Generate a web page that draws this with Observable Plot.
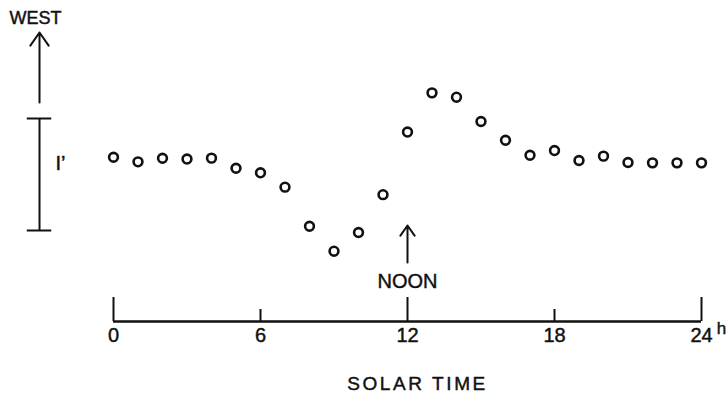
<!DOCTYPE html>
<html><head><meta charset="utf-8">
<script src="https://cdn.jsdelivr.net/npm/d3@7"></script>
<script src="https://cdn.jsdelivr.net/npm/@observablehq/plot@0.6"></script>
<style>
html,body{margin:0;padding:0;background:#fff;}
</style></head><body><div id="chart"></div>
<script>
// Solar time (hours) and westward deviation (arcminutes, relative to scale-bar base)
const hours = [0,1,2,3,4,5,6,7,8,9,10,11,12,13,14,15,16,17,18,19,20,21,22,23,24];
const deviation = [0.654,0.613,0.645,0.638,0.646,0.556,0.515,0.387,0.038,-0.185,-0.018,0.320,0.879,1.229,1.190,0.973,0.806,0.672,0.714,0.625,0.664,0.607,0.604,0.604,0.604];
const majorTicks = [0,12,24];
const minorTicks = [6,18];
const tickValues = [0,6,12,18,24];
const tickLabels = ["0","6","12","18","24"];
// annotation anchors (data units)
const axisLevel = -0.8125;
const scaleBar = {x: -3.02, from: 0, to: 1, label: "I’", labelY: 0.6};
const westArrow = {x: -3.02, y1: 1.143, y2: 1.768, label: "WEST", labelY: 1.893};
const noonArrow = {x: 12, y1: -0.286, y2: 0.045, label: "NOON", labelY: -0.455};

const data = hours.map((h,i)=>({h, v: deviation[i]}));
const ink = "#111";
const txt = {fill: ink, stroke: ink, strokeWidth: 0.45};

const chart = Plot.plot({
  width: 728, height: 403,
  marginLeft: 113, marginRight: 27, marginTop: 0, marginBottom: 82,
  x: {domain: [0,24], axis: null},
  y: {domain: [0,1], range: [230,118], axis: null},
  style: {fontFamily: "'Liberation Sans', Arial, sans-serif", color: ink, background: "#fff", overflow: "visible"},
  marks: [
    // x axis line and ticks
    Plot.ruleY([axisLevel], {y: d=>d, x1: 0, x2: 24, stroke: ink, strokeWidth: 2.3}),
    Plot.tickX(majorTicks, {x: d=>d, insetTop: 297, stroke: ink, strokeWidth: 2}),
    Plot.tickX(minorTicks, {x: d=>d, insetTop: 309, stroke: ink, strokeWidth: 2}),
    Plot.text(tickValues, {x: d=>d, text: (d,i)=>tickLabels[i], frameAnchor: "bottom", dy: 20, fontSize: 20, ...txt}),
    Plot.text(["h"], {x: ()=>24, text: d=>d, frameAnchor: "bottom", dx: 20, dy: 12, fontSize: 17, ...txt}),
    Plot.text(["SOLAR TIME"], {x: ()=>12, text: d=>d, frameAnchor: "bottom", dx: 10, dy: 68, fontSize: 19, ...txt}),
    // scale bar 1'
    Plot.ruleX([scaleBar], {x: d=>d.x, y1: d=>d.from, y2: d=>d.to, stroke: ink, strokeWidth: 2}),
    Plot.ruleY([scaleBar.from, scaleBar.to], {y: d=>d, x1: scaleBar.x-0.5, x2: scaleBar.x+0.5, stroke: ink, strokeWidth: 2}),
    Plot.text([scaleBar], {x: d=>d.x, y: d=>d.labelY, text: d=>d.label, dx: 16, textAnchor: "start", fontSize: 20, ...txt}),
    // WEST arrow
    Plot.arrow([westArrow], {x: d=>d.x, y1: d=>d.y1, y2: d=>d.y2, stroke: ink, strokeWidth: 2, headLength: 12, headAngle: 70}),
    Plot.text([westArrow], {x: d=>d.x, y: d=>d.labelY, text: d=>d.label, dx: -4, fontSize: 18, ...txt}),
    // NOON arrow
    Plot.arrow([noonArrow], {x: d=>d.x, y1: d=>d.y1, y2: d=>d.y2, stroke: ink, strokeWidth: 2, headLength: 12, headAngle: 70}),
    Plot.text([noonArrow], {x: d=>d.x, y: d=>d.labelY, text: d=>d.label, fontSize: 20, ...txt}),
    // data
    Plot.dot(data, {x: "h", y: "v", r: 4.4, stroke: ink, strokeWidth: 2.6, fill: "#fff"})
  ]
});
d3.select(chart).selectAll("text").filter(function(){ return this.textContent === "SOLAR TIME"; })
  .style("letter-spacing", "2.6px");
document.getElementById("chart").appendChild(chart);
</script></body></html>
